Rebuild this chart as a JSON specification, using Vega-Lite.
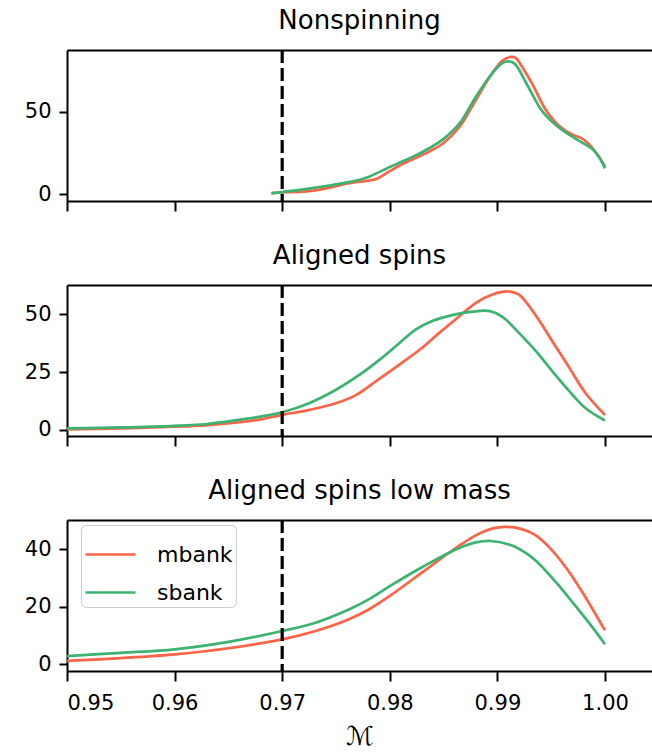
{
  "$schema": "https://vega.github.io/schema/vega-lite/v6.json",
  "background": "white",
  "autosize": {"type": "pad"},
  "padding": {"left": 24, "top": 8, "right": 0, "bottom": 0},
  "config": {
    "font": "DejaVu Sans",
    "view": {"stroke": null},
    "axis": {
      "labelFont": "DejaVu Sans", "labelFontSize": 21, "labelColor": "#000000",
      "domainColor": "#000000", "domainWidth": 2, "tickColor": "#000000", "tickWidth": 2,
      "tickSize": 8, "labelPadding": 8, "grid": false
    },
    "axisX": {"tickSize": 10},
    "title": {"font": "DejaVu Sans", "fontSize": 26, "fontWeight": "normal", "color": "#000000", "frame": "group", "anchor": "middle", "offset": 14},
    "line": {"strokeWidth": 2.7, "interpolate": "catmull-rom"}
  },
  "data": {"values": [
    {"panel": "Nonspinning", "bank": "mbank", "x": 0.969, "y": 0.8},
    {"panel": "Nonspinning", "bank": "mbank", "x": 0.970, "y": 1.2},
    {"panel": "Nonspinning", "bank": "mbank", "x": 0.971, "y": 1.4},
    {"panel": "Nonspinning", "bank": "mbank", "x": 0.9725, "y": 2.0},
    {"panel": "Nonspinning", "bank": "mbank", "x": 0.974, "y": 3.5},
    {"panel": "Nonspinning", "bank": "mbank", "x": 0.975, "y": 5.0},
    {"panel": "Nonspinning", "bank": "mbank", "x": 0.9765, "y": 7.0},
    {"panel": "Nonspinning", "bank": "mbank", "x": 0.978, "y": 8.3},
    {"panel": "Nonspinning", "bank": "mbank", "x": 0.9788, "y": 9.5},
    {"panel": "Nonspinning", "bank": "mbank", "x": 0.980, "y": 14.0},
    {"panel": "Nonspinning", "bank": "mbank", "x": 0.9812, "y": 18.5},
    {"panel": "Nonspinning", "bank": "mbank", "x": 0.9824, "y": 22},
    {"panel": "Nonspinning", "bank": "mbank", "x": 0.9837, "y": 26},
    {"panel": "Nonspinning", "bank": "mbank", "x": 0.985, "y": 31},
    {"panel": "Nonspinning", "bank": "mbank", "x": 0.9865, "y": 41},
    {"panel": "Nonspinning", "bank": "mbank", "x": 0.988, "y": 57},
    {"panel": "Nonspinning", "bank": "mbank", "x": 0.9895, "y": 73},
    {"panel": "Nonspinning", "bank": "mbank", "x": 0.9905, "y": 81},
    {"panel": "Nonspinning", "bank": "mbank", "x": 0.9912, "y": 83},
    {"panel": "Nonspinning", "bank": "mbank", "x": 0.9917, "y": 82.5},
    {"panel": "Nonspinning", "bank": "mbank", "x": 0.9922, "y": 78},
    {"panel": "Nonspinning", "bank": "mbank", "x": 0.9933, "y": 66},
    {"panel": "Nonspinning", "bank": "mbank", "x": 0.9945, "y": 51},
    {"panel": "Nonspinning", "bank": "mbank", "x": 0.9958, "y": 41},
    {"panel": "Nonspinning", "bank": "mbank", "x": 0.997, "y": 36},
    {"panel": "Nonspinning", "bank": "mbank", "x": 0.9978, "y": 34},
    {"panel": "Nonspinning", "bank": "mbank", "x": 0.9984, "y": 31},
    {"panel": "Nonspinning", "bank": "mbank", "x": 0.9992, "y": 25},
    {"panel": "Nonspinning", "bank": "mbank", "x": 1.000, "y": 17},
    {"panel": "Nonspinning", "bank": "sbank", "x": 0.969, "y": 0.6},
    {"panel": "Nonspinning", "bank": "sbank", "x": 0.970, "y": 1.4},
    {"panel": "Nonspinning", "bank": "sbank", "x": 0.9725, "y": 3.5},
    {"panel": "Nonspinning", "bank": "sbank", "x": 0.975, "y": 6.0},
    {"panel": "Nonspinning", "bank": "sbank", "x": 0.9772, "y": 8.8},
    {"panel": "Nonspinning", "bank": "sbank", "x": 0.978, "y": 10.5},
    {"panel": "Nonspinning", "bank": "sbank", "x": 0.980, "y": 16.5},
    {"panel": "Nonspinning", "bank": "sbank", "x": 0.9812, "y": 20},
    {"panel": "Nonspinning", "bank": "sbank", "x": 0.9824, "y": 23.5},
    {"panel": "Nonspinning", "bank": "sbank", "x": 0.9837, "y": 28},
    {"panel": "Nonspinning", "bank": "sbank", "x": 0.985, "y": 33.5},
    {"panel": "Nonspinning", "bank": "sbank", "x": 0.9865, "y": 43},
    {"panel": "Nonspinning", "bank": "sbank", "x": 0.988, "y": 59},
    {"panel": "Nonspinning", "bank": "sbank", "x": 0.9895, "y": 73},
    {"panel": "Nonspinning", "bank": "sbank", "x": 0.9905, "y": 79.5},
    {"panel": "Nonspinning", "bank": "sbank", "x": 0.991, "y": 80.3},
    {"panel": "Nonspinning", "bank": "sbank", "x": 0.9916, "y": 79},
    {"panel": "Nonspinning", "bank": "sbank", "x": 0.9927, "y": 67},
    {"panel": "Nonspinning", "bank": "sbank", "x": 0.9942, "y": 50},
    {"panel": "Nonspinning", "bank": "sbank", "x": 0.9958, "y": 40},
    {"panel": "Nonspinning", "bank": "sbank", "x": 0.9973, "y": 33.5},
    {"panel": "Nonspinning", "bank": "sbank", "x": 0.9982, "y": 30},
    {"panel": "Nonspinning", "bank": "sbank", "x": 0.9989, "y": 27},
    {"panel": "Nonspinning", "bank": "sbank", "x": 0.9995, "y": 22},
    {"panel": "Nonspinning", "bank": "sbank", "x": 1.000, "y": 15.7},

    {"panel": "Aligned", "bank": "mbank", "x": 0.950, "y": 0.2},
    {"panel": "Aligned", "bank": "mbank", "x": 0.955, "y": 0.7},
    {"panel": "Aligned", "bank": "mbank", "x": 0.960, "y": 1.4},
    {"panel": "Aligned", "bank": "mbank", "x": 0.963, "y": 2.1},
    {"panel": "Aligned", "bank": "mbank", "x": 0.966, "y": 3.4},
    {"panel": "Aligned", "bank": "mbank", "x": 0.968, "y": 4.6},
    {"panel": "Aligned", "bank": "mbank", "x": 0.970, "y": 6.5},
    {"panel": "Aligned", "bank": "mbank", "x": 0.9725, "y": 8.7},
    {"panel": "Aligned", "bank": "mbank", "x": 0.975, "y": 11.6},
    {"panel": "Aligned", "bank": "mbank", "x": 0.9769, "y": 15.2},
    {"panel": "Aligned", "bank": "mbank", "x": 0.9787, "y": 21},
    {"panel": "Aligned", "bank": "mbank", "x": 0.9809, "y": 28.3},
    {"panel": "Aligned", "bank": "mbank", "x": 0.9828, "y": 34.8},
    {"panel": "Aligned", "bank": "mbank", "x": 0.9846, "y": 42},
    {"panel": "Aligned", "bank": "mbank", "x": 0.9865, "y": 49.3},
    {"panel": "Aligned", "bank": "mbank", "x": 0.988, "y": 55},
    {"panel": "Aligned", "bank": "mbank", "x": 0.9896, "y": 58.7},
    {"panel": "Aligned", "bank": "mbank", "x": 0.991, "y": 59.9},
    {"panel": "Aligned", "bank": "mbank", "x": 0.992, "y": 58.5},
    {"panel": "Aligned", "bank": "mbank", "x": 0.9936, "y": 49.3},
    {"panel": "Aligned", "bank": "mbank", "x": 0.9951, "y": 38.4},
    {"panel": "Aligned", "bank": "mbank", "x": 0.9967, "y": 26.8},
    {"panel": "Aligned", "bank": "mbank", "x": 0.9982, "y": 15.9},
    {"panel": "Aligned", "bank": "mbank", "x": 1.000, "y": 6.5},
    {"panel": "Aligned", "bank": "sbank", "x": 0.950, "y": 0.7},
    {"panel": "Aligned", "bank": "sbank", "x": 0.955, "y": 1.1},
    {"panel": "Aligned", "bank": "sbank", "x": 0.960, "y": 1.8},
    {"panel": "Aligned", "bank": "sbank", "x": 0.963, "y": 2.6},
    {"panel": "Aligned", "bank": "sbank", "x": 0.966, "y": 4.4},
    {"panel": "Aligned", "bank": "sbank", "x": 0.968, "y": 5.8},
    {"panel": "Aligned", "bank": "sbank", "x": 0.970, "y": 7.7},
    {"panel": "Aligned", "bank": "sbank", "x": 0.9725, "y": 11.6},
    {"panel": "Aligned", "bank": "sbank", "x": 0.975, "y": 17.4},
    {"panel": "Aligned", "bank": "sbank", "x": 0.9772, "y": 23.9},
    {"panel": "Aligned", "bank": "sbank", "x": 0.979, "y": 30.2},
    {"panel": "Aligned", "bank": "sbank", "x": 0.9809, "y": 37.6},
    {"panel": "Aligned", "bank": "sbank", "x": 0.9824, "y": 43.4},
    {"panel": "Aligned", "bank": "sbank", "x": 0.984, "y": 47.2},
    {"panel": "Aligned", "bank": "sbank", "x": 0.9858, "y": 49.7},
    {"panel": "Aligned", "bank": "sbank", "x": 0.9877, "y": 51.2},
    {"panel": "Aligned", "bank": "sbank", "x": 0.9893, "y": 51.4},
    {"panel": "Aligned", "bank": "sbank", "x": 0.9905, "y": 48.8},
    {"panel": "Aligned", "bank": "sbank", "x": 0.992, "y": 42},
    {"panel": "Aligned", "bank": "sbank", "x": 0.9936, "y": 34},
    {"panel": "Aligned", "bank": "sbank", "x": 0.9951, "y": 25.4},
    {"panel": "Aligned", "bank": "sbank", "x": 0.9967, "y": 16.7},
    {"panel": "Aligned", "bank": "sbank", "x": 0.9982, "y": 9.4},
    {"panel": "Aligned", "bank": "sbank", "x": 1.000, "y": 4.1},

    {"panel": "LowMass", "bank": "mbank", "x": 0.950, "y": 1.2},
    {"panel": "LowMass", "bank": "mbank", "x": 0.955, "y": 2.2},
    {"panel": "LowMass", "bank": "mbank", "x": 0.960, "y": 3.5},
    {"panel": "LowMass", "bank": "mbank", "x": 0.965, "y": 5.6},
    {"panel": "LowMass", "bank": "mbank", "x": 0.970, "y": 8.7},
    {"panel": "LowMass", "bank": "mbank", "x": 0.9731, "y": 11.6},
    {"panel": "LowMass", "bank": "mbank", "x": 0.9762, "y": 15.7},
    {"panel": "LowMass", "bank": "mbank", "x": 0.978, "y": 19},
    {"panel": "LowMass", "bank": "mbank", "x": 0.980, "y": 23.8},
    {"panel": "LowMass", "bank": "mbank", "x": 0.9832, "y": 32.5},
    {"panel": "LowMass", "bank": "mbank", "x": 0.9863, "y": 40.9},
    {"panel": "LowMass", "bank": "mbank", "x": 0.9882, "y": 45.3},
    {"panel": "LowMass", "bank": "mbank", "x": 0.9895, "y": 47.2},
    {"panel": "LowMass", "bank": "mbank", "x": 0.9907, "y": 47.8},
    {"panel": "LowMass", "bank": "mbank", "x": 0.9921, "y": 47.2},
    {"panel": "LowMass", "bank": "mbank", "x": 0.9935, "y": 45},
    {"panel": "LowMass", "bank": "mbank", "x": 0.995, "y": 40},
    {"panel": "LowMass", "bank": "mbank", "x": 0.9965, "y": 33},
    {"panel": "LowMass", "bank": "mbank", "x": 0.998, "y": 24.5},
    {"panel": "LowMass", "bank": "mbank", "x": 1.000, "y": 11.8},
    {"panel": "LowMass", "bank": "sbank", "x": 0.950, "y": 2.9},
    {"panel": "LowMass", "bank": "sbank", "x": 0.955, "y": 4.0},
    {"panel": "LowMass", "bank": "sbank", "x": 0.960, "y": 5.2},
    {"panel": "LowMass", "bank": "sbank", "x": 0.965, "y": 7.8},
    {"panel": "LowMass", "bank": "sbank", "x": 0.970, "y": 11.6},
    {"panel": "LowMass", "bank": "sbank", "x": 0.9731, "y": 14.5},
    {"panel": "LowMass", "bank": "sbank", "x": 0.9762, "y": 19.1},
    {"panel": "LowMass", "bank": "sbank", "x": 0.978, "y": 22.5},
    {"panel": "LowMass", "bank": "sbank", "x": 0.980, "y": 27.2},
    {"panel": "LowMass", "bank": "sbank", "x": 0.9832, "y": 34.2},
    {"panel": "LowMass", "bank": "sbank", "x": 0.9863, "y": 40.2},
    {"panel": "LowMass", "bank": "sbank", "x": 0.988, "y": 42.4},
    {"panel": "LowMass", "bank": "sbank", "x": 0.9894, "y": 42.9},
    {"panel": "LowMass", "bank": "sbank", "x": 0.9913, "y": 41.4},
    {"panel": "LowMass", "bank": "sbank", "x": 0.9928, "y": 38.3},
    {"panel": "LowMass", "bank": "sbank", "x": 0.994, "y": 34.5},
    {"panel": "LowMass", "bank": "sbank", "x": 0.9955, "y": 28.3},
    {"panel": "LowMass", "bank": "sbank", "x": 0.997, "y": 21.5},
    {"panel": "LowMass", "bank": "sbank", "x": 0.9985, "y": 14.5},
    {"panel": "LowMass", "bank": "sbank", "x": 1.000, "y": 7.0}
  ]},
  "spacing": 84,
  "bounds": "flush",
  "resolve": {"legend": {"color": "independent"}},
  "vconcat": [
    {
      "title": "Nonspinning",
      "width": 585, "height": 151,
      "resolve": {"axis": {"x": "independent"}},
      "layer": [
        {
          "transform": [{"filter": "datum.panel === 'Nonspinning'"}],
          "mark": {"type": "line"},
          "encoding": {
            "x": {"field": "x", "type": "quantitative", "scale": {"domain": [0.95, 1.00437], "nice": false, "zero": false},
                  "axis": {"orient": "bottom", "values": [0.95, 0.96, 0.97, 0.98, 0.99, 1.0], "labels": false, "title": null}},
            "y": {"field": "y", "type": "quantitative", "scale": {"domain": [-4, 87.2], "nice": false, "zero": false},
                  "axis": {"values": [0, 50], "title": null}},
            "color": {"field": "bank", "type": "nominal", "scale": {"domain": ["mbank", "sbank"], "range": ["#ff6347", "#3cb371"]}, "legend": null}
          }
        },
        {
          "data": {"values": [{"thr": 0.97}]},
          "mark": {"type": "rule", "color": "#000000", "strokeWidth": 3.2, "strokeDash": [13, 5]},
          "encoding": {
            "x": {"field": "thr", "type": "quantitative", "scale": {"domain": [0.95, 1.00437], "nice": false, "zero": false},
                  "axis": {"orient": "top", "labels": false, "ticks": false, "domain": true, "title": null}}
          }
        }
      ]
    },
    {
      "title": "Aligned spins",
      "width": 585, "height": 151,
      "resolve": {"axis": {"x": "independent"}},
      "layer": [
        {
          "transform": [{"filter": "datum.panel === 'Aligned'"}],
          "mark": {"type": "line"},
          "encoding": {
            "x": {"field": "x", "type": "quantitative", "scale": {"domain": [0.95, 1.00437], "nice": false, "zero": false},
                  "axis": {"orient": "bottom", "values": [0.95, 0.96, 0.97, 0.98, 0.99, 1.0], "labels": false, "title": null}},
            "y": {"field": "y", "type": "quantitative", "scale": {"domain": [-2.6, 62.7], "nice": false, "zero": false},
                  "axis": {"values": [0, 25, 50], "title": null}},
            "color": {"field": "bank", "type": "nominal", "scale": {"domain": ["mbank", "sbank"], "range": ["#ff6347", "#3cb371"]}, "legend": null}
          }
        },
        {
          "data": {"values": [{"thr": 0.97}]},
          "mark": {"type": "rule", "color": "#000000", "strokeWidth": 3.2, "strokeDash": [13, 5]},
          "encoding": {
            "x": {"field": "thr", "type": "quantitative", "scale": {"domain": [0.95, 1.00437], "nice": false, "zero": false},
                  "axis": {"orient": "top", "labels": false, "ticks": false, "domain": true, "title": null}}
          }
        }
      ]
    },
    {
      "title": "Aligned spins low mass",
      "width": 585, "height": 151,
      "resolve": {"axis": {"x": "independent"}},
      "layer": [
        {
          "transform": [{"filter": "datum.panel === 'LowMass'"}],
          "mark": {"type": "line"},
          "encoding": {
            "x": {"field": "x", "type": "quantitative", "scale": {"domain": [0.95, 1.00437], "nice": false, "zero": false},
                  "axis": {"orient": "bottom", "values": [0.95, 0.96, 0.97, 0.98, 0.99, 1.0], "format": ".2f", "labelPadding": 11, "title": "ℳ",
                           "titleFont": "DejaVu Sans", "titleFontSize": 26, "titleFontWeight": "normal", "titleColor": "#000000", "titlePadding": 10}},
            "y": {"field": "y", "type": "quantitative", "scale": {"domain": [-2.3, 50.2], "nice": false, "zero": false},
                  "axis": {"values": [0, 20, 40], "title": null}},
            "color": {"field": "bank", "type": "nominal", "scale": {"domain": ["mbank", "sbank"], "range": ["#ff6347", "#3cb371"]},
                      "legend": {"orient": "none", "legendX": 14, "legendY": 5, "title": null, "symbolType": "stroke",
                                 "symbolSize": 2500, "symbolStrokeWidth": 2.7, "labelFont": "DejaVu Sans", "labelFontSize": 22,
                                 "labelColor": "#000000", "fillColor": "rgba(255,255,255,0.8)", "strokeColor": "#cccccc",
                                 "cornerRadius": 5, "padding": 3, "labelOffset": 20, "rowPadding": -22}}
          }
        },
        {
          "data": {"values": [{"thr": 0.97}]},
          "mark": {"type": "rule", "color": "#000000", "strokeWidth": 3.2, "strokeDash": [13, 5]},
          "encoding": {
            "x": {"field": "thr", "type": "quantitative", "scale": {"domain": [0.95, 1.00437], "nice": false, "zero": false},
                  "axis": {"orient": "top", "labels": false, "ticks": false, "domain": true, "title": null}}
          }
        }
      ]
    }
  ]
}
